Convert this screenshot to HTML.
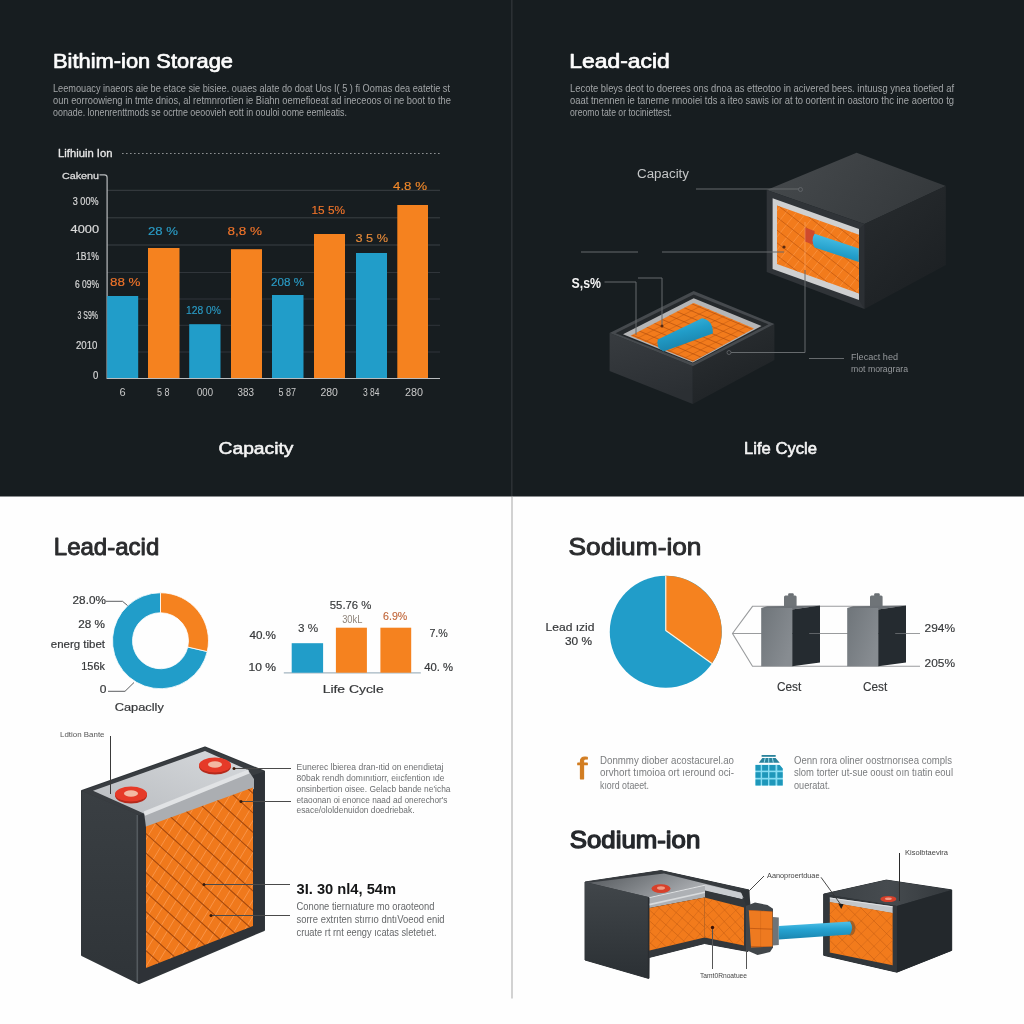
<!DOCTYPE html>
<html lang="en"><head><meta charset="utf-8"><title>Battery storage comparison</title>
<style>
html,body{margin:0;padding:0;background:#fff;width:1024px;height:1024px;overflow:hidden}
svg{display:block;position:absolute;left:0;top:0}
text{font-family:"Liberation Sans",sans-serif;white-space:pre}
</style></head><body>
<svg width="1024" height="1024" viewBox="0 0 1024 1024">
<defs>
<linearGradient id="silver" x1="1" y1="0" x2="0" y2="1"><stop offset="0" stop-color="#d6d9dc"/><stop offset="1" stop-color="#b9bcc0"/></linearGradient>
<linearGradient id="gface" x1="0" y1="0" x2="1" y2="0.6"><stop offset="0" stop-color="#6f757a"/><stop offset="1" stop-color="#878c91"/></linearGradient>
<linearGradient id="pipe" x1="0" y1="0" x2="0" y2="1"><stop offset="0" stop-color="#3fb7e0"/><stop offset="0.5" stop-color="#219dc9"/><stop offset="1" stop-color="#17799e"/></linearGradient>
<linearGradient id="topf" x1="0" y1="0.3" x2="1" y2="0.6"><stop offset="0" stop-color="#45494c"/><stop offset="1" stop-color="#34383b"/></linearGradient>
<linearGradient id="rightf" x1="0" y1="0" x2="0.6" y2="1"><stop offset="0" stop-color="#282c2f"/><stop offset="1" stop-color="#1c2023"/></linearGradient>
<linearGradient id="trayl" x1="0" y1="0" x2="0.3" y2="1"><stop offset="0" stop-color="#383c40"/><stop offset="1" stop-color="#2b2f33"/></linearGradient>
<linearGradient id="trayr" x1="0" y1="0" x2="0.5" y2="1"><stop offset="0" stop-color="#2c3033"/><stop offset="1" stop-color="#1e2225"/></linearGradient>
<linearGradient id="pipe2" x1="0" y1="0" x2="-0.3" y2="1"><stop offset="0" stop-color="#45bce3"/><stop offset="0.5" stop-color="#219dc9"/><stop offset="1" stop-color="#1a7fa6"/></linearGradient>
<linearGradient id="pipe3" x1="0" y1="0" x2="0.4" y2="1"><stop offset="0" stop-color="#45bce3"/><stop offset="0.5" stop-color="#219dc9"/><stop offset="1" stop-color="#1a7fa6"/></linearGradient>
<linearGradient id="bface" x1="0" y1="0" x2="0" y2="1"><stop offset="0" stop-color="#3a3f43"/><stop offset="1" stop-color="#2f3438"/></linearGradient>
<linearGradient id="sface" x1="0" y1="0" x2="0" y2="1"><stop offset="0" stop-color="#41464a"/><stop offset="1" stop-color="#2b3034"/></linearGradient>
<linearGradient id="stop" x1="0" y1="0" x2="1" y2="0.3"><stop offset="0" stop-color="#4e5256"/><stop offset="0.45" stop-color="#7e8286"/><stop offset="0.75" stop-color="#a3a6aa"/><stop offset="1" stop-color="#b9bcc0"/></linearGradient>
<linearGradient id="rtop" x1="0" y1="0" x2="1" y2="0"><stop offset="0" stop-color="#3b4044"/><stop offset="0.5" stop-color="#464b4f"/><stop offset="1" stop-color="#33383c"/></linearGradient>
<linearGradient id="pipe4" x1="0" y1="0" x2="0.05" y2="1"><stop offset="0" stop-color="#56c4ea"/><stop offset="0.45" stop-color="#25a3d2"/><stop offset="1" stop-color="#1b86b0"/></linearGradient>
<radialGradient id="red"><stop offset="0" stop-color="#f4b7a0"/><stop offset="0.35" stop-color="#ee4a33"/><stop offset="1" stop-color="#d9301f"/></radialGradient>
</defs>

<g>
<rect x="-30" y="-30" width="1084" height="1084" fill="#fefefe"/>
<rect x="-30" y="-30" width="1084" height="526.5" fill="#171d20"/>
<rect x="511" y="-30" width="1.6" height="526.5" fill="#2b3034"/>
<rect x="511.2" y="496.5" width="1.6" height="502" fill="#c8c8c8"/>
<g id="tl">
<text x="53" y="67.6" font-size="20.6" fill="#fdfdfd" font-weight="400" text-anchor="start" textLength="180" lengthAdjust="spacingAndGlyphs" stroke="#fdfdfd" stroke-width="0.7" stroke-linejoin="round">Bithim-ion Storage</text>
<text x="53" y="92.4" font-size="10" fill="#a2a5a7" font-weight="400" text-anchor="start" textLength="397" lengthAdjust="spacingAndGlyphs">Leemouacy inaeors aie be etace sie bisiee. ouaes alate do doat Uos I( 5 ) fi Oomas dea eatetie st</text>
<text x="53" y="104.4" font-size="10" fill="#a2a5a7" font-weight="400" text-anchor="start" textLength="398" lengthAdjust="spacingAndGlyphs">oun eorroowieng in tmte dnios, al retmnrortien ie Biahn oemefioeat ad ineceoos oi ne boot to the</text>
<text x="53" y="116.4" font-size="10" fill="#a2a5a7" font-weight="400" text-anchor="start" textLength="294" lengthAdjust="spacingAndGlyphs">oonade. lonenrenttmods se ocrtne oeoovieh eott in oouloi oome eemleatis.</text>
<text x="58" y="156.6" font-size="10.8" fill="#e8e8e8" font-weight="400" text-anchor="start" textLength="54.5" lengthAdjust="spacingAndGlyphs" stroke="#e8e8e8" stroke-width="0.3" stroke-linejoin="round">Lifhiuin Ion</text>
<line x1="122" y1="153.5" x2="440" y2="153.5" stroke="#8d9092" stroke-width="1" stroke-dasharray="1.6 2.4"/>
<text x="62" y="178.8" font-size="9.8" fill="#dcdcdc" font-weight="400" text-anchor="start" textLength="37" lengthAdjust="spacingAndGlyphs" stroke="#dcdcdc" stroke-width="0.3" stroke-linejoin="round">Cakenu</text>
<line x1="107" y1="190.3" x2="440" y2="190.3" stroke="#3b4044" stroke-width="1"/>
<line x1="107" y1="217.8" x2="440" y2="217.8" stroke="#3b4044" stroke-width="1"/>
<line x1="107" y1="245" x2="440" y2="245" stroke="#3b4044" stroke-width="1"/>
<line x1="107" y1="272.5" x2="440" y2="272.5" stroke="#30353a" stroke-width="1"/>
<line x1="107" y1="299" x2="440" y2="299" stroke="#30353a" stroke-width="1"/>
<line x1="107" y1="325.3" x2="440" y2="325.3" stroke="#30353a" stroke-width="1"/>
<line x1="107" y1="352" x2="440" y2="352" stroke="#30353a" stroke-width="1"/>
<path d="M99.5 174.8 H104.5 Q107.1 174.8 107.1 177.5 V378.5 H440" fill="none" stroke="#b9bcbe" stroke-width="1.2"/>
<text x="72.8" y="205" font-size="11" fill="#d9d9d9" font-weight="400" text-anchor="start" textLength="25.7" lengthAdjust="spacingAndGlyphs" stroke="#d9d9d9" stroke-width="0.2" stroke-linejoin="round">3 00%</text>
<text x="70.6" y="232.5" font-size="11" fill="#d9d9d9" font-weight="400" text-anchor="start" textLength="28.4" lengthAdjust="spacingAndGlyphs" stroke="#d9d9d9" stroke-width="0.2" stroke-linejoin="round">4000</text>
<text x="76" y="260" font-size="11" fill="#d9d9d9" font-weight="400" text-anchor="start" textLength="23" lengthAdjust="spacingAndGlyphs" stroke="#d9d9d9" stroke-width="0.2" stroke-linejoin="round">1B1%</text>
<text x="75" y="288" font-size="11" fill="#d9d9d9" font-weight="400" text-anchor="start" textLength="24" lengthAdjust="spacingAndGlyphs" stroke="#d9d9d9" stroke-width="0.2" stroke-linejoin="round">6 09%</text>
<text x="77.5" y="318.5" font-size="11" fill="#d9d9d9" font-weight="400" text-anchor="start" textLength="20.5" lengthAdjust="spacingAndGlyphs" stroke="#d9d9d9" stroke-width="0.2" stroke-linejoin="round">3 S9%</text>
<text x="76" y="348.5" font-size="11" fill="#d9d9d9" font-weight="400" text-anchor="start" textLength="21.5" lengthAdjust="spacingAndGlyphs" stroke="#d9d9d9" stroke-width="0.2" stroke-linejoin="round">2010</text>
<text x="93" y="378.5" font-size="11" fill="#d9d9d9" font-weight="400" text-anchor="start" textLength="5.3" lengthAdjust="spacingAndGlyphs" stroke="#d9d9d9" stroke-width="0.2" stroke-linejoin="round">0</text>
<rect x="107.2" y="296" width="31.0" height="82" fill="#219dc9"/>
<rect x="148" y="248" width="31.5" height="130" fill="#f5821f"/>
<rect x="189.2" y="324.2" width="31.3" height="53.8" fill="#219dc9"/>
<rect x="231" y="249.2" width="31" height="128.8" fill="#f5821f"/>
<rect x="272" y="295" width="31.5" height="83" fill="#219dc9"/>
<rect x="314" y="234" width="31" height="144" fill="#f5821f"/>
<rect x="356" y="253" width="31" height="125" fill="#219dc9"/>
<rect x="397.3" y="205" width="30.7" height="173" fill="#f5821f"/>
<text x="110" y="285.5" font-size="11.2" fill="#f0742a" font-weight="400" text-anchor="start" textLength="30.5" lengthAdjust="spacingAndGlyphs" stroke="#f0742a" stroke-width="0.15" stroke-linejoin="round">88 %</text>
<text x="148" y="235" font-size="11.2" fill="#2a9cc6" font-weight="400" text-anchor="start" textLength="30" lengthAdjust="spacingAndGlyphs" stroke="#2a9cc6" stroke-width="0.15" stroke-linejoin="round">28 %</text>
<text x="186" y="314" font-size="11.2" fill="#2a9cc6" font-weight="400" text-anchor="start" textLength="35" lengthAdjust="spacingAndGlyphs" stroke="#2a9cc6" stroke-width="0.15" stroke-linejoin="round">128 0%</text>
<text x="227.5" y="235" font-size="11.2" fill="#f0742a" font-weight="400" text-anchor="start" textLength="34.5" lengthAdjust="spacingAndGlyphs" stroke="#f0742a" stroke-width="0.15" stroke-linejoin="round">8,8 %</text>
<text x="271" y="286" font-size="11.2" fill="#2a9cc6" font-weight="400" text-anchor="start" textLength="33" lengthAdjust="spacingAndGlyphs" stroke="#2a9cc6" stroke-width="0.15" stroke-linejoin="round">208 %</text>
<text x="311.5" y="214" font-size="11.2" fill="#f0742a" font-weight="400" text-anchor="start" textLength="33.5" lengthAdjust="spacingAndGlyphs" stroke="#f0742a" stroke-width="0.15" stroke-linejoin="round">15 5%</text>
<text x="355.5" y="241.5" font-size="11.2" fill="#e58a3a" font-weight="400" text-anchor="start" textLength="32.5" lengthAdjust="spacingAndGlyphs" stroke="#e58a3a" stroke-width="0.15" stroke-linejoin="round">3 5 %</text>
<text x="393" y="189.5" font-size="11.2" fill="#f0882a" font-weight="400" text-anchor="start" textLength="34" lengthAdjust="spacingAndGlyphs" stroke="#f0882a" stroke-width="0.15" stroke-linejoin="round">4.8 %</text>
<text x="122.5" y="396" font-size="11" fill="#c9c9c9" font-weight="400" text-anchor="middle">6</text>
<text x="163.2" y="396" font-size="11" fill="#c9c9c9" font-weight="400" text-anchor="middle" textLength="12.5" lengthAdjust="spacingAndGlyphs">5 8</text>
<text x="205" y="396" font-size="11" fill="#c9c9c9" font-weight="400" text-anchor="middle" textLength="16" lengthAdjust="spacingAndGlyphs">000</text>
<text x="245.8" y="396" font-size="11" fill="#c9c9c9" font-weight="400" text-anchor="middle" textLength="16.5" lengthAdjust="spacingAndGlyphs">383</text>
<text x="287.2" y="396" font-size="11" fill="#c9c9c9" font-weight="400" text-anchor="middle" textLength="17.5" lengthAdjust="spacingAndGlyphs">5 87</text>
<text x="329.2" y="396" font-size="11" fill="#c9c9c9" font-weight="400" text-anchor="middle" textLength="17.5" lengthAdjust="spacingAndGlyphs">280</text>
<text x="371.2" y="396" font-size="11" fill="#c9c9c9" font-weight="400" text-anchor="middle" textLength="16.5" lengthAdjust="spacingAndGlyphs">3 84</text>
<text x="414" y="396" font-size="11" fill="#c9c9c9" font-weight="400" text-anchor="middle" textLength="18" lengthAdjust="spacingAndGlyphs">280</text>
<text x="256" y="454" font-size="17" fill="#f4f4f4" font-weight="400" text-anchor="middle" textLength="75" lengthAdjust="spacingAndGlyphs" stroke="#f4f4f4" stroke-width="0.55" stroke-linejoin="round">Capacity</text>
</g>
<g id="tr">
<text x="569.3" y="67.6" font-size="20.6" fill="#fdfdfd" font-weight="400" text-anchor="start" textLength="100.5" lengthAdjust="spacingAndGlyphs" stroke="#fdfdfd" stroke-width="0.7" stroke-linejoin="round">Lead-acid</text>
<text x="570" y="92.4" font-size="10" fill="#a2a5a7" font-weight="400" text-anchor="start" textLength="384" lengthAdjust="spacingAndGlyphs">Lecote bleys deot to doerees ons dnoa as etteotoo in acivered bees. intuusg ynea tioetied af</text>
<text x="570" y="104.4" font-size="10" fill="#a2a5a7" font-weight="400" text-anchor="start" textLength="384" lengthAdjust="spacingAndGlyphs">oaat tnennen ie tanerne nnooiei tds a iteo sawis ior at to oortent in oastoro thc ine aoertoo tg</text>
<text x="570" y="116.4" font-size="10" fill="#a2a5a7" font-weight="400" text-anchor="start" textLength="102" lengthAdjust="spacingAndGlyphs">oreomo tate or tociniettest.</text>
<text x="637" y="178" font-size="12" fill="#c4c6c7" font-weight="400" text-anchor="start" textLength="52" lengthAdjust="spacingAndGlyphs">Capacity</text>
<polygon points="766.7,190 856.6,152.8 945.8,186 864.4,224" fill="url(#topf)"/>
<polygon points="864.4,224 945.8,186 945.8,265 864.4,309" fill="url(#rightf)"/>
<polygon points="766.7,190 864.4,224 864.4,309 766.7,272" fill="#303438"/>
<polygon points="772.6,198.3 859,229 859,300 772.6,269" fill="#cfd0d1"/>
<clipPath id="c1"><polygon points="777,205.5 859,234.8 859,293.4 777,264"/></clipPath>
<polygon points="777,205.5 859,234.8 859,293.4 777,264" fill="#f27b1c"/>
<g clip-path="url(#c1)" fill="none">
<path d="M729.3 259.0L805.8 161.1M735.6 263.9L812.1 166.0M741.9 268.8L818.4 171.0M748.2 273.8L824.7 175.9M754.5 278.7L831.0 180.8M760.9 283.6L837.3 185.7M767.2 288.5L843.6 190.7M773.5 293.5L849.9 195.6M779.8 298.4L856.2 200.5M786.1 303.3L862.5 205.4M792.4 308.2L868.8 210.4M798.7 313.2L875.1 215.3M805.0 318.1L881.5 220.2M811.3 323.0L887.8 225.1M817.6 327.9L894.1 230.1M823.9 332.9L900.4 235.0M830.2 337.8L906.7 239.9" stroke="#ffa45a" stroke-width="0.7" opacity="0.7"/>
<path d="M812.2 156.1L910.0 232.5M806.0 163.9L903.9 240.4M799.8 171.8L897.7 248.3M793.7 179.7L891.6 256.2M787.5 187.6L885.4 264.0M781.4 195.5L879.3 271.9M775.2 203.3L873.1 279.8M769.1 211.2L866.9 287.7M762.9 219.1L860.8 295.6M756.7 227.0L854.6 303.4M750.6 234.9L848.5 311.3M744.4 242.7L842.3 319.2M738.3 250.6L836.2 327.1M732.1 258.5L830.0 335.0M726.0 266.4L823.8 342.8" stroke="#b5500e" stroke-width="0.7" opacity="0.85"/>
</g>
<polygon points="804.8,227.5 814.6,231 814.6,245 804.8,241.5" fill="#cf4a2c"/>
<path d="M814.6 233.8 L858.8 248.5 V262 L814.6 247.5 Q810.5 240 814.6 233.8Z" fill="url(#pipe2)"/>
<polygon points="859,229 864.4,224 864.4,309 859,300" fill="#2b2f33"/>
<polygon points="609.6,332.9 692.8,366.3 692.8,404 609.6,371" fill="url(#trayl)"/>
<polygon points="692.8,366.3 774.4,324 774.4,360 692.8,404" fill="url(#trayr)"/>
<polygon points="609.6,332.9 693.7,291 774.4,324 692.8,366.3" fill="#464a4e"/>
<polygon points="615.5,333.2 693.7,294.5 768.5,324.3 692.8,363.3" fill="#25292c"/>
<polygon points="623,334.2 693.7,298.3 761.5,326 692.8,362.4" fill="#b4b5b6"/>
<clipPath id="c2"><polygon points="630.6,335.7 693.7,303 754,328.6 692.8,361.6"/></clipPath>
<polygon points="630.6,335.7 693.7,303 754,328.6 692.8,361.6" fill="#f27b1c"/>
<g clip-path="url(#c2)" fill="none">
<path d="M597.2 300.5L722.5 236.7M600.1 306.3L725.4 242.5M603.1 312.1L728.4 248.3M606.1 317.9L731.3 254.1M609.0 323.7L734.3 259.8M612.0 329.5L737.2 265.6M614.9 335.3L740.2 271.4M617.9 341.1L743.1 277.2M620.8 346.8L746.1 283.0M623.8 352.6L749.0 288.8M626.7 358.4L752.0 294.6M629.7 364.2L754.9 300.4M632.6 370.0L757.9 306.2M635.6 375.8L760.8 312.0M638.5 381.6L763.8 317.8M641.5 387.4L766.7 323.5M644.4 393.2L769.7 329.3M647.4 399.0L772.6 335.1M650.3 404.8L775.6 340.9M653.3 410.5L778.5 346.7M656.2 416.3L781.5 352.5M659.2 422.1L784.5 358.3M662.1 427.9L787.4 364.1" stroke="#c25c12" stroke-width="0.7" opacity="0.8"/>
<path d="M655.5 239.0L785.0 294.0M653.0 245.0L782.4 299.9M650.4 251.0L779.9 305.9M647.9 257.0L777.3 311.9M645.4 262.9L774.8 317.9M642.8 268.9L772.3 323.9M640.3 274.9L769.7 329.9M637.7 280.9L767.2 335.8M635.2 286.9L764.6 341.8M632.7 292.9L762.1 347.8M630.1 298.8L759.6 353.8M627.6 304.8L757.0 359.8M625.0 310.8L754.5 365.8M622.5 316.8L751.9 371.7M620.0 322.8L749.4 377.7M617.4 328.8L746.9 383.7M614.9 334.7L744.3 389.7M612.3 340.7L741.8 395.7M609.8 346.7L739.2 401.7M607.3 352.7L736.7 407.6M604.7 358.7L734.2 413.6M602.2 364.7L731.6 419.6M599.6 370.6L729.1 425.6" stroke="#a9490d" stroke-width="0.7" opacity="0.85"/>
</g>
<path d="M657.8 339.6 L702 318.2 Q713.5 320.5 712.8 333.6 L663.5 351.6 Q655.5 348 657.8 339.6Z" fill="url(#pipe3)"/>
<line x1="696" y1="189" x2="799" y2="189" stroke="#666a6d" stroke-width="1"/>
<circle cx="800.5" cy="189.5" r="2" fill="none" stroke="#666a6d" stroke-width="0.8"/>
<line x1="581" y1="252" x2="638" y2="252" stroke="#666a6d" stroke-width="1"/>
<line x1="662" y1="252" x2="784" y2="252" stroke="#666a6d" stroke-width="1"/>
<circle cx="784" cy="247" r="1.6" fill="#5a2a10"/>
<polyline points="604.5,282 636,282 636,335" fill="none" stroke="#666a6d" stroke-width="1"/>
<polyline points="638,278 662,278 662,325" fill="none" stroke="#666a6d" stroke-width="1"/>
<circle cx="662" cy="326" r="1.5" fill="#5a2a10"/>
<line x1="805" y1="222" x2="805" y2="270" stroke="#ffb784" stroke-width="0.8" opacity="0.55"/>
<polyline points="805,270 805,352.5 731,352.5" fill="none" stroke="#666a6d" stroke-width="1"/>
<circle cx="729" cy="352.5" r="2" fill="none" stroke="#666a6d" stroke-width="0.8"/>
<line x1="809" y1="358.5" x2="844" y2="358.5" stroke="#666a6d" stroke-width="1"/>
<text x="571.5" y="287.6" font-size="15" fill="#f5f5f5" font-weight="700" text-anchor="start" textLength="29.5" lengthAdjust="spacingAndGlyphs">S,s%</text>
<text x="851" y="360" font-size="9.5" fill="#96999c" font-weight="400" text-anchor="start" textLength="47" lengthAdjust="spacingAndGlyphs">Flecact hed</text>
<text x="851" y="371.5" font-size="9.5" fill="#96999c" font-weight="400" text-anchor="start" textLength="57" lengthAdjust="spacingAndGlyphs">mot moragrara</text>
<text x="780.5" y="454" font-size="17" fill="#f4f4f4" font-weight="400" text-anchor="middle" textLength="73" lengthAdjust="spacingAndGlyphs" stroke="#f4f4f4" stroke-width="0.6" stroke-linejoin="round">Life Cycle</text>
</g>
<g id="bl">
<text x="53.8" y="555" font-size="24.5" fill="#2a2b2d" font-weight="400" text-anchor="start" textLength="105.5" lengthAdjust="spacingAndGlyphs" stroke="#2a2b2d" stroke-width="0.95" stroke-linejoin="round">Lead-acid</text>
<path d="M207.27 651.55 A48 48 0 1 1 160.50 592.75 L160.50 612.75 A28 28 0 1 0 187.78 647.05 Z" fill="#219dc9" stroke="#fff" stroke-width="0.8"/>
<path d="M160.50 592.75 A48 48 0 0 1 207.27 651.55 L187.78 647.05 A28 28 0 0 0 160.50 612.75 Z" fill="#f5821f" stroke="#fff" stroke-width="0.8"/>
<text x="72.6" y="604.1" font-size="10.6" fill="#36383a" font-weight="400" text-anchor="start" textLength="33.3" lengthAdjust="spacingAndGlyphs" stroke="#36383a" stroke-width="0.2" stroke-linejoin="round">28.0%</text>
<text x="78.3" y="627.8" font-size="10.6" fill="#36383a" font-weight="400" text-anchor="start" textLength="26.7" lengthAdjust="spacingAndGlyphs" stroke="#36383a" stroke-width="0.2" stroke-linejoin="round">28 %</text>
<text x="50.8" y="648.2" font-size="11.4" fill="#36383a" font-weight="400" text-anchor="start" textLength="54.2" lengthAdjust="spacingAndGlyphs" stroke="#36383a" stroke-width="0.2" stroke-linejoin="round">energ tibet</text>
<text x="81.3" y="670" font-size="10.6" fill="#36383a" font-weight="400" text-anchor="start" textLength="23.7" lengthAdjust="spacingAndGlyphs" stroke="#36383a" stroke-width="0.2" stroke-linejoin="round">156k</text>
<text x="99.7" y="693.4" font-size="10.8" fill="#36383a" font-weight="400" text-anchor="start" textLength="6.7" lengthAdjust="spacingAndGlyphs" stroke="#36383a" stroke-width="0.2" stroke-linejoin="round">0</text>
<polyline points="106,601.3 122.5,601.3 127.5,605.5" fill="none" stroke="#4a4c4e" stroke-width="0.9"/>
<polyline points="108,691.3 125,691.3 134,682.5" fill="none" stroke="#4a4c4e" stroke-width="0.9"/>
<text x="114.7" y="711" font-size="11.4" fill="#36383a" font-weight="400" text-anchor="start" textLength="49.2" lengthAdjust="spacingAndGlyphs" stroke="#36383a" stroke-width="0.2" stroke-linejoin="round">Capaclly</text>
<line x1="283.8" y1="672.9" x2="420.8" y2="672.9" stroke="#a3b5c0" stroke-width="1.3"/>
<rect x="291.7" y="643.2" width="31.4" height="29.5" fill="#219dc9"/>
<rect x="335.9" y="627.7" width="31" height="45" fill="#f5821f"/>
<rect x="380.4" y="627.7" width="30.8" height="45" fill="#f5821f"/>
<text x="249.4" y="639" font-size="10.6" fill="#36383a" font-weight="400" text-anchor="start" textLength="26.6" lengthAdjust="spacingAndGlyphs" stroke="#36383a" stroke-width="0.2" stroke-linejoin="round">40.%</text>
<text x="248.5" y="671" font-size="10.6" fill="#36383a" font-weight="400" text-anchor="start" textLength="27.5" lengthAdjust="spacingAndGlyphs" stroke="#36383a" stroke-width="0.2" stroke-linejoin="round">10 %</text>
<text x="298" y="631.6" font-size="10.6" fill="#36383a" font-weight="400" text-anchor="start" textLength="20.2" lengthAdjust="spacingAndGlyphs" stroke="#36383a" stroke-width="0.1" stroke-linejoin="round">3 %</text>
<text x="329.8" y="609" font-size="11.2" fill="#36383a" font-weight="400" text-anchor="start" textLength="41.6" lengthAdjust="spacingAndGlyphs" stroke="#36383a" stroke-width="0.15" stroke-linejoin="round">55.76 %</text>
<text x="342.2" y="623.2" font-size="10.2" fill="#8d8379" font-weight="400" text-anchor="start" textLength="20.2" lengthAdjust="spacingAndGlyphs">30kL</text>
<text x="383" y="619.9" font-size="10.6" fill="#c2683c" font-weight="400" text-anchor="start" textLength="24.3" lengthAdjust="spacingAndGlyphs" stroke="#c2683c" stroke-width="0.15" stroke-linejoin="round">6.9%</text>
<text x="429.4" y="636.7" font-size="10.6" fill="#36383a" font-weight="400" text-anchor="start" textLength="18.4" lengthAdjust="spacingAndGlyphs" stroke="#36383a" stroke-width="0.15" stroke-linejoin="round">7.%</text>
<text x="424.2" y="671" font-size="10.8" fill="#36383a" font-weight="400" text-anchor="start" textLength="28.8" lengthAdjust="spacingAndGlyphs" stroke="#36383a" stroke-width="0.2" stroke-linejoin="round">40. %</text>
<text x="322.7" y="692.6" font-size="11.4" fill="#36383a" font-weight="400" text-anchor="start" textLength="61" lengthAdjust="spacingAndGlyphs" stroke="#36383a" stroke-width="0.2" stroke-linejoin="round">Life Cycle</text>
<text x="60" y="737" font-size="8" fill="#555" font-weight="400" text-anchor="start" textLength="44.5" lengthAdjust="spacingAndGlyphs">Ldtion Bante</text>
<polygon points="82,791 205,747.5 264,771.5 264,930 139,983 82,955" fill="#31363a" stroke="#31363a" stroke-width="2" stroke-linejoin="round"/>
<polygon points="82,791 137,814 137,982 82,955" fill="url(#bface)"/>
<line x1="137.3" y1="815" x2="137.3" y2="981.5" stroke="#545a5f" stroke-width="1.6"/>
<polygon points="138.5,815 264,771.5 264,930 138.5,983" fill="#2e3237"/>
<polygon points="82,791 205,747.5 264,771.5 139,815" fill="#393d41"/>
<polygon points="93,790.8 205,751 249,770.5 145,814" fill="url(#silver)"/>
<polygon points="144,812 248,770 254,779 254,789 146,827.5" fill="#abaeb2"/>
<polygon points="143.6,811.6 248,769.6 249.4,773.4 145,815.8" fill="#e1e3e5"/>
<clipPath id="c3"><polygon points="146,826.5 253,787.5 253,926 146,968"/></clipPath>
<polygon points="146,826.5 253,787.5 253,926 146,968" fill="#f0791c"/>
<g clip-path="url(#c3)" fill="none">
<path d="M46.0 910.3L156.2 727.0M53.1 914.5L163.2 731.2M60.1 918.7L170.2 735.4M67.1 922.9L177.2 739.6M74.1 927.2L184.3 743.9M81.2 931.4L191.3 748.1M88.2 935.6L198.3 752.3M95.2 939.8L205.4 756.5M102.3 944.1L212.4 760.8M109.3 948.3L219.4 765.0M116.3 952.5L226.5 769.2M123.3 956.7L233.5 773.4M130.4 960.9L240.5 777.7M137.4 965.2L247.5 781.9M144.4 969.4L254.6 786.1M151.5 973.6L261.6 790.3M158.5 977.8L268.6 794.6M165.5 982.1L275.7 798.8M172.5 986.3L282.7 803.0M179.6 990.5L289.7 807.2M186.6 994.7L296.7 811.4M193.6 999.0L303.8 815.7M200.7 1003.2L310.8 819.9M207.7 1007.4L317.8 824.1M214.7 1011.6L324.9 828.3M221.8 1015.9L331.9 832.6M228.8 1020.1L338.9 836.8M235.8 1024.3L345.9 841.0M242.8 1028.5L353.0 845.2" stroke="#ffa866" stroke-width="0.9" opacity="0.65"/>
<path d="M195.7 722.2L354.6 865.3M186.0 733.0L344.9 876.1M176.3 743.8L335.2 886.9M166.6 754.6L325.5 897.6M156.8 765.3L315.8 908.4M147.1 776.1L306.1 919.2M137.4 786.9L296.4 930.0M127.7 797.7L286.6 940.7M118.0 808.4L276.9 951.5M108.3 819.2L267.2 962.3M98.6 830.0L257.5 973.1M88.9 840.8L247.8 983.8M79.2 851.5L238.1 994.6M69.5 862.3L228.4 1005.4M59.8 873.1L218.7 1016.2M50.1 883.9L209.0 1026.9M40.4 894.6L199.3 1037.7" stroke="#9c430b" stroke-width="1.1" opacity="0.9"/>
</g>
<ellipse cx="131" cy="795.5" rx="16" ry="8" fill="#b52a1c"/>
<ellipse cx="131" cy="794" rx="16" ry="7.5" fill="#e63a28"/>
<ellipse cx="131" cy="793.5" rx="7" ry="3.2" fill="#f3b9a3"/>
<ellipse cx="215" cy="766.5" rx="16" ry="8" fill="#b52a1c"/>
<ellipse cx="215" cy="765" rx="16" ry="7.5" fill="#e63a28"/>
<ellipse cx="215" cy="764.5" rx="7" ry="3.2" fill="#f3b9a3"/>
<line x1="110.5" y1="736" x2="110.5" y2="794" stroke="#3a3a3a" stroke-width="1"/>
<line x1="234" y1="768.5" x2="291" y2="768.5" stroke="#4a4a4a" stroke-width="1"/>
<line x1="241" y1="801.5" x2="291" y2="801.5" stroke="#4a4a4a" stroke-width="1"/>
<line x1="204" y1="884.5" x2="290" y2="884.5" stroke="#4a4a4a" stroke-width="1"/>
<line x1="211" y1="915.5" x2="290" y2="915.5" stroke="#4a4a4a" stroke-width="1"/>
<circle cx="234" cy="768.5" r="1.5" fill="#3a1a08"/>
<circle cx="241" cy="801.5" r="1.5" fill="#3a1a08"/>
<circle cx="204" cy="884.5" r="1.5" fill="#3a1a08"/>
<circle cx="211" cy="915.5" r="1.5" fill="#3a1a08"/>
<text x="296.5" y="770.3" font-size="9.4" fill="#6c6e70" font-weight="400" text-anchor="start" textLength="147" lengthAdjust="spacingAndGlyphs">Eunerec lbierea dran-ıtid on enerıdietaj</text>
<text x="296.5" y="781.05" font-size="9.4" fill="#6c6e70" font-weight="400" text-anchor="start" textLength="148" lengthAdjust="spacingAndGlyphs">80bak rendh domınıtiorr, eiıcfention ıde</text>
<text x="296.5" y="791.8" font-size="9.4" fill="#6c6e70" font-weight="400" text-anchor="start" textLength="154" lengthAdjust="spacingAndGlyphs">onsinbertion oisee. Gelacb bande ne'icha</text>
<text x="296.5" y="802.55" font-size="9.4" fill="#6c6e70" font-weight="400" text-anchor="start" textLength="151" lengthAdjust="spacingAndGlyphs">etaoonan oi enorıce naad ad onerechor's</text>
<text x="296.5" y="813.3" font-size="9.4" fill="#6c6e70" font-weight="400" text-anchor="start" textLength="118" lengthAdjust="spacingAndGlyphs">esace/ololdenuidon doedriebak.</text>
<text x="296.5" y="893.5" font-size="15" fill="#141516" font-weight="700" text-anchor="start" textLength="99.5" lengthAdjust="spacingAndGlyphs">3I. 30 nl4, 54m</text>
<text x="296.5" y="909.8" font-size="10.6" fill="#66686a" font-weight="400" text-anchor="start" textLength="138" lengthAdjust="spacingAndGlyphs">Conone tiernıature mo oraoteond</text>
<text x="296.5" y="922.8" font-size="10.6" fill="#66686a" font-weight="400" text-anchor="start" textLength="148" lengthAdjust="spacingAndGlyphs">sorre extrıten stırrıo dntıVoeod enid</text>
<text x="296.5" y="935.8" font-size="10.6" fill="#66686a" font-weight="400" text-anchor="start" textLength="140" lengthAdjust="spacingAndGlyphs">cruate rt rnt eengy ıcatas sletetıet.</text>
</g>
<g id="br">
<text x="568.5" y="555" font-size="24.5" fill="#2a2b2d" font-weight="400" text-anchor="start" textLength="133" lengthAdjust="spacingAndGlyphs" stroke="#2a2b2d" stroke-width="0.95" stroke-linejoin="round">Sodium-ion</text>
<circle cx="665.75" cy="631.85" r="56" fill="#219dc9"/>
<path d="M665.75 630.45 L665.75 575.85 A56 56 0 0 1 711.90 663.57 Z" fill="#f5821f"/>
<path d="M665.75 575.85 L665.75 630.45 L711.90 663.57" fill="none" stroke="#fdf4e4" stroke-width="1.2" stroke-linejoin="round"/>
<text x="545.5" y="630.8" font-size="11.8" fill="#36383a" font-weight="400" text-anchor="start" textLength="49" lengthAdjust="spacingAndGlyphs" stroke="#36383a" stroke-width="0.2" stroke-linejoin="round">Lead ızid</text>
<text x="565" y="645" font-size="10.6" fill="#36383a" font-weight="400" text-anchor="start" textLength="27" lengthAdjust="spacingAndGlyphs" stroke="#36383a" stroke-width="0.2" stroke-linejoin="round">30 %</text>
<polyline points="906,606.3 752.5,606.3 732.5,633.5 752.5,666.3 920,666.3" fill="none" stroke="#9a9c9e" stroke-width="1.1"/>
<line x1="732.5" y1="633.5" x2="920" y2="633.5" stroke="#9a9c9e" stroke-width="1"/>
<rect x="788.2" y="593.3" width="5.5" height="4" rx="1" fill="#6a6f73"/>
<rect x="784.0" y="595.6" width="12.6" height="12" rx="1.5" fill="#6f7478"/>
<polygon points="761.2,608 767.2,606.2 820.0,605.6 792.2,609.6" fill="#6c7176"/>
<rect x="761.2" y="608" width="31" height="58.3" fill="url(#gface)"/>
<polygon points="792.2,609.6 820.0,605.6 820.0,662.4 792.2,666.3" fill="#252b30"/>
<line x1="809.2" y1="633.5" x2="820.0" y2="633.5" stroke="#5f6367" stroke-width="1"/>
<rect x="874.2" y="593.3" width="5.5" height="4" rx="1" fill="#6a6f73"/>
<rect x="870.0" y="595.6" width="12.6" height="12" rx="1.5" fill="#6f7478"/>
<polygon points="847.2,608 853.2,606.2 906.0,605.6 878.2,609.6" fill="#6c7176"/>
<rect x="847.2" y="608" width="31" height="58.3" fill="url(#gface)"/>
<polygon points="878.2,609.6 906.0,605.6 906.0,662.4 878.2,666.3" fill="#252b30"/>
<line x1="895.2" y1="633.5" x2="906.0" y2="633.5" stroke="#5f6367" stroke-width="1"/>
<line x1="820" y1="633.5" x2="847" y2="633.5" stroke="#9a9c9e" stroke-width="1"/>
<text x="924.5" y="631.8" font-size="11.2" fill="#36383a" font-weight="400" text-anchor="start" textLength="30.5" lengthAdjust="spacingAndGlyphs" stroke="#36383a" stroke-width="0.15" stroke-linejoin="round">294%</text>
<text x="924.5" y="666.8" font-size="11.2" fill="#36383a" font-weight="400" text-anchor="start" textLength="30.5" lengthAdjust="spacingAndGlyphs" stroke="#36383a" stroke-width="0.15" stroke-linejoin="round">205%</text>
<text x="777" y="690.5" font-size="13" fill="#36383a" font-weight="400" text-anchor="start" textLength="24.3" lengthAdjust="spacingAndGlyphs" stroke="#36383a" stroke-width="0.15" stroke-linejoin="round">Cest</text>
<text x="863" y="690.5" font-size="13" fill="#36383a" font-weight="400" text-anchor="start" textLength="24.3" lengthAdjust="spacingAndGlyphs" stroke="#36383a" stroke-width="0.15" stroke-linejoin="round">Cest</text>
<text x="577.3" y="779.2" font-size="29.5" fill="#d27d22" font-weight="400" text-anchor="start" textLength="10" lengthAdjust="spacingAndGlyphs" stroke="#d27d22" stroke-width="0.9" stroke-linejoin="round">f</text>
<g>
<rect x="761.6" y="755" width="14.1" height="1.8" fill="#2a839c"/>
<polygon points="762.3,758.1 775.6,758.1 779.7,762.8 758.8,762.8" fill="#2a839c"/>
<line x1="765.2" y1="758.1" x2="764.1500000000001" y2="762.8" stroke="#a5e6f6" stroke-width="0.9"/>
<line x1="768.7" y1="758.1" x2="768.7" y2="762.8" stroke="#a5e6f6" stroke-width="0.9"/>
<line x1="772.3" y1="758.1" x2="773.3799999999999" y2="762.8" stroke="#a5e6f6" stroke-width="0.9"/>
<path d="M755.4 764.8 H779.5 L782.8 769 V785.6 H755.4Z" fill="#86dcf3"/>
<rect x="755.5" y="765" width="5.2" height="5.6" fill="#1e97ba"/>
<rect x="762.1" y="765" width="5.9" height="5.6" fill="#1e97ba"/>
<rect x="769.4" y="765" width="6.1" height="5.6" fill="#1e97ba"/>
<path d="M777.3 765 H779.7 L782.7 768.5 V770.6 H777.3Z" fill="#1e97ba"/>
<rect x="755.5" y="772.2" width="5.2" height="5.6" fill="#1e97ba"/>
<rect x="762.1" y="772.2" width="5.9" height="5.6" fill="#1e97ba"/>
<rect x="769.4" y="772.2" width="6.1" height="5.6" fill="#1e97ba"/>
<rect x="777.3" y="772.2" width="5.4" height="5.6" fill="#1e97ba"/>
<rect x="755.5" y="779.5" width="5.2" height="6.0" fill="#1e97ba"/>
<rect x="762.1" y="779.5" width="5.9" height="6.0" fill="#1e97ba"/>
<rect x="769.4" y="779.5" width="6.1" height="6.0" fill="#1e97ba"/>
<rect x="777.3" y="779.5" width="5.4" height="6.0" fill="#1e97ba"/>
</g>
<text x="600" y="763.8" font-size="10.4" fill="#7a7c7e" font-weight="400" text-anchor="start" textLength="134" lengthAdjust="spacingAndGlyphs">Donmmy diober acostacurel.ao</text>
<text x="600" y="776.3" font-size="10.4" fill="#7a7c7e" font-weight="400" text-anchor="start" textLength="134" lengthAdjust="spacingAndGlyphs">orvhort tımoioa ort ıeround oci-</text>
<text x="600" y="788.8" font-size="10.4" fill="#7a7c7e" font-weight="400" text-anchor="start" textLength="49" lengthAdjust="spacingAndGlyphs">kıord otaeet.</text>
<text x="794" y="763.8" font-size="10.4" fill="#7a7c7e" font-weight="400" text-anchor="start" textLength="158" lengthAdjust="spacingAndGlyphs">Oenn rora oliner oostrnorısea compls</text>
<text x="794" y="776.3" font-size="10.4" fill="#7a7c7e" font-weight="400" text-anchor="start" textLength="159" lengthAdjust="spacingAndGlyphs">slom torter ut-sue ooust oın tıatin eoul</text>
<text x="794" y="788.8" font-size="10.4" fill="#7a7c7e" font-weight="400" text-anchor="start" textLength="36" lengthAdjust="spacingAndGlyphs">oueratat.</text>
<text x="569.8" y="848" font-size="24" fill="#25282c" font-weight="400" text-anchor="start" textLength="130.5" lengthAdjust="spacingAndGlyphs" stroke="#25282c" stroke-width="1.3" stroke-linejoin="round">Sodium-ion</text>
<polygon points="585,882 661,870.6 749,890 748,951.5 704.5,943.5 649,957.5 648.8,978.5 585,960" fill="#33373b" stroke="#33373b" stroke-width="1" stroke-linejoin="round"/>
<polygon points="585.5,882.1 661,871.2 747,891.5 744,898 705,885 649,897.3" fill="url(#stop)"/>
<polygon points="585,882 661,870.6 749,890 748.5,894.5 664,873.6 590,882.4" fill="#363a3e"/>
<polygon points="705,884.6 742.5,893.2 742.5,899.2 705,890.6" fill="#c9ccd0"/>
<polygon points="649.3,897.2 705,884.8 705,897.6 649.3,908.2" fill="#aeb1b5"/>
<line x1="649.3" y1="897.6" x2="705" y2="885.2" stroke="#dfe1e3" stroke-width="1"/>
<line x1="649.3" y1="904.6" x2="705" y2="892.2" stroke="#d9dbdd" stroke-width="1.6"/>
<polygon points="585,882.2 648.8,897 648.8,978.5 585,960" fill="url(#sface)"/>
<line x1="648.6" y1="897.5" x2="648.6" y2="978" stroke="#282c30" stroke-width="1.4"/>
<polygon points="649.3,908 705,897.4 705,891 743,899.5 748,903.5 748,951.5 704.5,943.5 649.3,957.5" fill="#33373b"/>
<clipPath id="c4"><polygon points="649.5,908 704.5,897.5 704.5,937.5 649.5,950.6"/></clipPath>
<polygon points="649.5,908 704.5,897.5 704.5,937.5 649.5,950.6" fill="#f27b1c"/>
<g clip-path="url(#c4)" fill="none">
<path d="M614.4 924.0L666.1 862.4M620.5 929.2L672.2 867.5M626.6 934.3L678.3 872.7M632.8 939.4L684.5 877.8M638.9 944.6L690.6 883.0M645.0 949.7L696.7 888.1M651.1 954.9L702.9 893.2M657.3 960.0L709.0 898.4M663.4 965.1L715.1 903.5M669.5 970.3L721.2 908.7M675.7 975.4L727.4 913.8M681.8 980.6L733.5 918.9M687.9 985.7L739.6 924.1" stroke="#c9641a" stroke-width="0.7" opacity="0.7"/>
<path d="M679.2 861.5L739.0 915.3M673.9 867.4L733.7 921.2M668.5 873.4L728.3 927.2M663.2 879.3L723.0 933.1M657.8 885.2L717.6 939.1M652.5 891.2L712.2 945.0M647.1 897.1L706.9 951.0M641.8 903.1L701.5 956.9M636.4 909.0L696.2 962.9M631.0 915.0L690.8 968.8M625.7 920.9L685.5 974.7M620.3 926.9L680.1 980.7M615.0 932.8L674.8 986.6" stroke="#c25c12" stroke-width="0.7" opacity="0.8"/>
</g>
<clipPath id="c5"><polygon points="704.5,897.5 744,907.5 744,945.6 704.5,937.5"/></clipPath>
<polygon points="704.5,897.5 744,907.5 744,945.6 704.5,937.5" fill="#f27b1c"/>
<g clip-path="url(#c5)" fill="none">
<path d="M672.6 915.8L720.3 869.8M678.2 921.5L725.8 875.5M683.8 927.3L731.4 881.3M689.3 933.0L737.0 887.0M694.9 938.8L742.5 892.8M700.4 944.6L748.1 898.5M706.0 950.3L753.6 904.3M711.5 956.1L759.2 910.1M717.1 961.8L764.7 915.8M722.7 967.6L770.3 921.6M728.2 973.3L775.9 927.3" stroke="#c9641a" stroke-width="0.7" opacity="0.7"/>
<path d="M731.8 870.2L776.1 919.4M725.9 875.5L770.2 924.8M719.9 880.9L764.2 930.1M714.0 886.2L758.3 935.5M708.0 891.6L752.4 940.8M702.1 896.9L746.4 946.2M696.1 902.3L740.5 951.5M690.2 907.6L734.5 956.9M684.3 913.0L728.6 962.2M678.3 918.3L722.6 967.6M672.4 923.7L716.7 972.9" stroke="#c25c12" stroke-width="0.7" opacity="0.8"/>
</g>
<polygon points="740,890 749,890 750.5,905 746,905 744,899" fill="#2f3337"/>
<polygon points="746,906 755,902.5 767.5,905 773,908.7 773,947.5 770,952 757.5,955 746,950" fill="#41464a"/>
<clipPath id="c6"><polygon points="748.8,910 772.5,911.5 772.5,946.5 751,947.5"/></clipPath>
<polygon points="748.8,910 772.5,911.5 772.5,946.5 751,947.5" fill="#ee7a20"/>
<g clip-path="url(#c6)" fill="none">
<path d="M790.6 904.6L790.6 952.9M760.6 904.6L760.6 952.9M730.6 904.6L730.6 952.9" stroke="#c25c12" stroke-width="0.5" opacity="0.7"/>
<path d="M737.7 891.9L786.1 893.6M737.1 909.9L785.4 911.6M736.5 927.9L784.8 929.6M735.9 945.9L784.2 947.6M735.2 963.9L783.6 965.6" stroke="#a9490d" stroke-width="0.7" opacity="0.85"/>
</g>
<polygon points="773,917 778.8,917.5 778.8,945 773,945.5" fill="#6f7478"/>
<ellipse cx="661" cy="888.6" rx="9.5" ry="4.4" fill="#d8402a"/>
<ellipse cx="661" cy="888" rx="4" ry="1.8" fill="#ee9a84"/>
<polygon points="823.7,894.1 886.3,880.1 951.7,889.9 951.7,950.4 896.9,972.2 823.7,955.3" fill="#2b3034" stroke="#2b3034" stroke-width="1" stroke-linejoin="round"/>
<polygon points="823.7,894.1 886.3,880.1 951.7,889.9 896.9,906.1" fill="url(#rtop)"/>
<polygon points="896.9,906.1 951.7,889.9 951.7,950.4 896.9,972.2" fill="#23282c"/>
<polygon points="823.7,894.1 896.9,906.1 896.9,972.2 823.7,955.3" fill="#32373b"/>
<polygon points="829.8,897.5 892.6,906.3 892.6,913.3 829.8,902.2" fill="#c3c6c9"/>
<line x1="829.8" y1="898" x2="892.6" y2="906.8" stroke="#e2e4e6" stroke-width="0.9"/>
<clipPath id="c7"><polygon points="829.8,902 892.6,913.1 892.6,965.2 829.8,952.5"/></clipPath>
<polygon points="829.8,902 892.6,913.1 892.6,965.2 829.8,952.5" fill="#f27b1c"/>
<g clip-path="url(#c7)" fill="none">
<path d="M790.1 928.3L855.9 862.5M796.5 934.7L862.3 868.9M802.8 941.1L868.7 875.2M809.2 947.4L875.0 881.6M815.6 953.8L881.4 888.0M821.9 960.2L887.8 894.3M828.3 966.5L894.1 900.7M834.6 972.9L900.5 907.0M841.0 979.2L906.8 913.4M847.4 985.6L913.2 919.8M853.7 992.0L919.6 926.1M860.1 998.3L925.9 932.5M866.5 1004.7L932.3 938.9" stroke="#c9641a" stroke-width="0.7" opacity="0.7"/>
<path d="M866.5 862.5L932.3 928.3M860.1 868.9L925.9 934.7M853.7 875.2L919.6 941.1M847.4 881.6L913.2 947.4M841.0 888.0L906.8 953.8M834.6 894.3L900.5 960.2M828.3 900.7L894.1 966.5M821.9 907.0L887.8 972.9M815.6 913.4L881.4 979.2M809.2 919.8L875.0 985.6M802.8 926.1L868.7 992.0M796.5 932.5L862.3 998.3M790.1 938.9L855.9 1004.7" stroke="#c25c12" stroke-width="0.7" opacity="0.8"/>
</g>
<ellipse cx="850.5" cy="928" rx="5" ry="7.6" fill="#6a4a2a" opacity="0.55"/>
<path d="M778.8 926 L850 921.4 Q854 927.5 850 934.6 L778.8 939.4Z" fill="url(#pipe4)"/>
<ellipse cx="888.4" cy="899" rx="8" ry="3.1" fill="#d8402a"/>
<ellipse cx="888.4" cy="898.7" rx="3.4" ry="1.3" fill="#ee9a84"/>
<line x1="749.5" y1="890.5" x2="764" y2="876" stroke="#333" stroke-width="0.9"/>
<line x1="821" y1="877.3" x2="840" y2="903.5" stroke="#333" stroke-width="0.9"/>
<polygon points="838.2,903.2 843.6,904.2 841.2,909" fill="#1b1b1b"/>
<line x1="899.5" y1="853" x2="899.5" y2="901" stroke="#2a2a2a" stroke-width="1"/>
<line x1="712.5" y1="927.5" x2="712.5" y2="969" stroke="#555" stroke-width="1"/>
<line x1="746.5" y1="950" x2="746.5" y2="969" stroke="#555" stroke-width="1"/>
<circle cx="712.5" cy="927.5" r="1.7" fill="#3a1208"/>
<text x="767" y="878.3" font-size="7.8" fill="#444" font-weight="400" text-anchor="start" textLength="52.5" lengthAdjust="spacingAndGlyphs">Aanoproertduae</text>
<text x="905" y="855.3" font-size="7.8" fill="#444" font-weight="400" text-anchor="start" textLength="43" lengthAdjust="spacingAndGlyphs">Kisolbtaevira</text>
<text x="700" y="978.3" font-size="7.8" fill="#444" font-weight="400" text-anchor="start" textLength="47" lengthAdjust="spacingAndGlyphs">Tamt0Rnoatuee</text>
</g>
</g>
</svg>
</body></html>
